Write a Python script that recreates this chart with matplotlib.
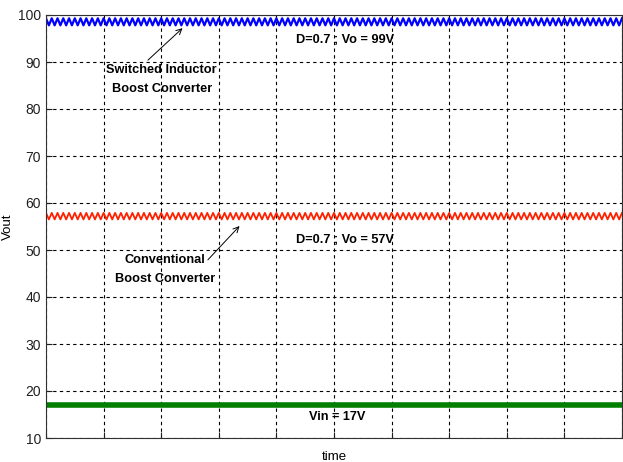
import matplotlib.pyplot as plt
import numpy as np

plt.rcParams['font.family'] = ['Liberation Sans', 'DejaVu Sans']

# ripple levels (peak, trough) for one switching period
si_ripple = [99.3, 97.8]      # switched inductor boost converter
conv_ripple = [57.9, 56.5]    # conventional boost converter
vin_level = [17.0, 17.0]      # input voltage
n_periods = 100

yticks = [10, 20, 30, 40, 50, 60, 70, 80, 90, 100]

t = np.linspace(0, 10, 2 * n_periods + 1)
vo_si = np.resize(si_ripple, t.size)
vo_conv = np.resize(conv_ripple, t.size)
vin = np.resize(vin_level, t.size)

fig = plt.figure(figsize=(6.23, 4.62), dpi=100)
ax = fig.add_axes([46 / 623, 24 / 462, 576 / 623, 423 / 462])

ax.plot(t, vo_si, color='#0000ff', lw=1.6)
ax.plot(t, vo_conv, color='#ff2000', lw=1.3)
ax.plot(t, vin, color='#007f00', lw=4)

ax.set_xlim(0, 10)
ax.set_ylim(10, 100)
ax.set_yticks(yticks)
ax.set_xticks(np.arange(0, 11, 1))
ax.set_xticklabels([])
ax.tick_params(direction='in', length=4, labelsize=10, colors='#202020')
ax.grid(True, color='black', linestyle=(0, (3, 3)), linewidth=0.8)
for s in ax.spines.values():
    s.set_color('#303030')

ax.set_ylabel('Vout', fontsize=9.5, labelpad=3)
ax.set_xlabel('time', fontsize=9.5, labelpad=6)

bold = dict(fontsize=9.2, fontweight='bold', ha='center', va='center')
ax.text(5.19, 94.6, 'D=0.7 ; Vo = 99V', **bold)
ax.text(5.19, 52.2, 'D=0.7 ; Vo = 57V', **bold)
ax.text(5.06, 14.5, 'Vin = 17V', **bold)

ax.text(2.01, 86.2, 'Switched Inductor\nBoost Converter', linespacing=1.75, **bold)
ax.text(2.06, 45.8, 'Conventional\nBoost Converter', linespacing=1.75, **bold)

arrow = dict(arrowstyle='->', color='black', lw=0.7, shrinkA=0, shrinkB=0)
ax.annotate('', xy=(2.37, 97.2), xytext=(1.77, 90.4), arrowprops=arrow)
ax.annotate('', xy=(3.36, 55.1), xytext=(2.81, 47.9), arrowprops=arrow)

fig.savefig('out.png', dpi=100)
